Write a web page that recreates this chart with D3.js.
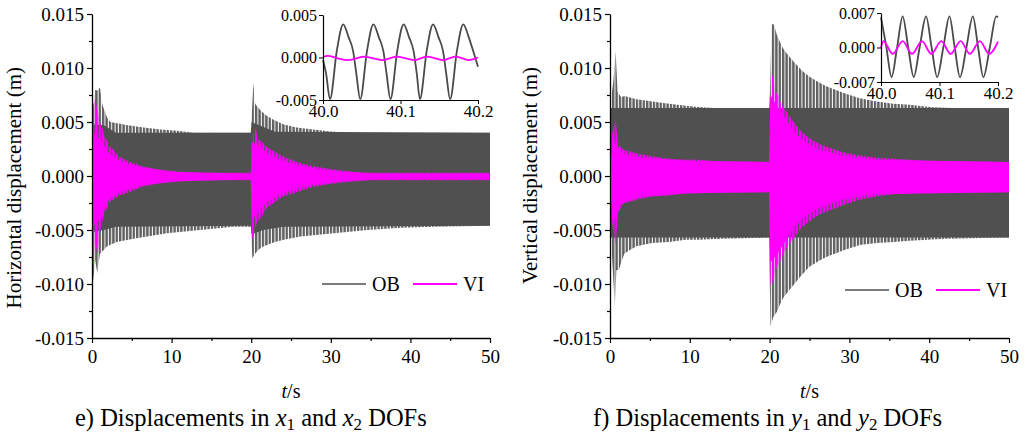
<!DOCTYPE html>
<html>
<head>
<meta charset="utf-8">
<script src="https://cdn.jsdelivr.net/npm/d3@7"></script>
<style>
  html, body { margin: 0; padding: 0; background: #fff; }
  svg { display: block; }
  text { font-family: "Liberation Serif", "Times New Roman", serif; fill: #000; }
</style>
</head>
<body>
<svg id="chart" width="1028" height="436"></svg>
<script>
// ---------- data (displacement in m, time in s) ----------
// Envelope of the response: tip = peaks of individual cycles, core = band reached by every cycle.

// e) horizontal, OB
const hObTipTop = [[0,0.0040],[0.15,0.0062],[0.4,0.0080],[0.7,0.0079],[1.0,0.0082],[1.3,0.0066],[1.6,0.0060],[1.9,0.0054],[2.3,0.0050],[3.0,0.0049],[4.5,0.0047],[6.5,0.0045],[8.6,0.0043],[10.7,0.0042],[12.8,0.0040],[19.95,0.0040],[20.1,0.0060],[20.27,0.0086],[20.5,0.0067],[20.8,0.0064],[21.3,0.0060],[21.9,0.0056],[22.8,0.0052],[24.0,0.0048],[25.7,0.0045],[27.8,0.0043],[30.3,0.0041],[32.8,0.0040],[50,0.0040]];
const hObTipBot = [[0,-0.0046],[0.1,-0.0100],[0.4,-0.0078],[0.67,-0.0090],[1.0,-0.0072],[1.3,-0.0070],[1.9,-0.0065],[3.1,-0.0061],[5.2,-0.0058],[9.4,-0.0053],[13.6,-0.0050],[17.7,-0.0047],[19.95,-0.0047],[20.15,-0.0076],[20.7,-0.0070],[21.3,-0.0066],[22.0,-0.0064],[23.0,-0.0061],[24.1,-0.0059],[26.2,-0.0056],[30.4,-0.0053],[34.6,-0.0050],[38.8,-0.0048],[43,-0.0047],[50,-0.0046]];
const hObCoreTop = [[0,0.0048],[1.5,0.0047],[3,0.0040],[19.95,0.0040],[20.05,0.0050],[21,0.0047],[23,0.0041],[50,0.0040]];
const hObCoreBot = [[0,-0.0052],[1.5,-0.0050],[3,-0.0047],[19.95,-0.0046],[20.05,-0.0054],[21.5,-0.0050],[24,-0.0047],[50,-0.0046]];

// e) horizontal, VI
const hViTipTop = [[0,0.0002],[0.15,0.0065],[0.4,0.0072],[0.7,0.0060],[1.0,0.0050],[1.3,0.0044],[1.6,0.0036],[1.9,0.0033],[2.2,0.0027],[2.6,0.0025],[3.4,0.0018],[4.7,0.0013],[6.3,0.0009],[8.4,0.0006],[10.9,0.0004],[13,0.0003],[19.95,0.0003],[20.05,0.0012],[20.27,0.0040],[20.6,0.0044],[20.8,0.0034],[21.3,0.0032],[21.9,0.0027],[22.8,0.0023],[24,0.0018],[25.7,0.0013],[27.8,0.0009],[30.3,0.0006],[32.8,0.0004],[35,0.0003],[50,0.0003]];
const hViTipBot = [[0,-0.0003],[0.15,-0.0082],[0.4,-0.0060],[0.7,-0.0073],[1.0,-0.0052],[1.3,-0.0042],[1.6,-0.0033],[1.9,-0.0030],[2.2,-0.0024],[3.4,-0.0018],[4.7,-0.0015],[6.3,-0.0010],[8.4,-0.0007],[10.9,-0.0005],[13,-0.0004],[19.95,-0.0004],[20.1,-0.0059],[20.5,-0.0048],[20.8,-0.0042],[21.3,-0.0038],[21.9,-0.0030],[22.8,-0.0025],[24,-0.0019],[25.7,-0.0015],[27.8,-0.0010],[30.3,-0.0007],[32.8,-0.0005],[35,-0.0004],[50,-0.0004]];
const hViCoreTop = [[0,0.0042],[1,0.0034],[2,0.0022],[3.5,0.0014],[6,0.0008],[10,0.0004],[19.95,0.0002],[20.05,0.0032],[21,0.0028],[22,0.0021],[24,0.0014],[27,0.0008],[31,0.0004],[36,0.0002],[50,0.0002]];
const hViCoreBot = [[0,-0.0048],[1,-0.0040],[2,-0.0023],[3.5,-0.0015],[6,-0.0009],[10,-0.0005],[19.95,-0.0003],[20.05,-0.0042],[21,-0.0032],[22,-0.0024],[24,-0.0016],[27,-0.0009],[31,-0.0005],[36,-0.0003],[50,-0.0003]];

// f) vertical, OB
const vObTipTop = [[0,0.0063],[0.2,0.0075],[0.45,0.0090],[0.7,0.0116],[0.95,0.0078],[1.4,0.0073],[1.8,0.0074],[2.4,0.0073],[3.3,0.0071],[5.3,0.0069],[7.4,0.0067],[9.5,0.0065],[11.1,0.0064],[13,0.0063],[19.95,0.0063],[20.05,0.0080],[20.26,0.0141],[20.55,0.0140],[20.9,0.0131],[21.3,0.0124],[21.7,0.0118],[22.1,0.0114],[23,0.0106],[24,0.0098],[25,0.0092],[26.1,0.0087],[27.1,0.0083],[29.2,0.0077],[31.3,0.0072],[33.4,0.0069],[35.5,0.0067],[37.6,0.0066],[40,0.0064],[43,0.0063],[50,0.0063]];
const vObTipBot = [[0,-0.0057],[0.2,-0.0067],[0.6,-0.0121],[0.8,-0.0087],[1.1,-0.0087],[1.5,-0.0078],[1.8,-0.0072],[2.4,-0.0069],[3.3,-0.0065],[5.3,-0.0062],[7.4,-0.0061],[9.5,-0.0059],[11.1,-0.0059],[14,-0.0058],[19.95,-0.0057],[20.1,-0.0139],[20.5,-0.0130],[20.9,-0.0126],[21.3,-0.0119],[21.7,-0.0113],[22.1,-0.0109],[23,-0.0101],[24,-0.0092],[25,-0.0084],[26.1,-0.0079],[27.1,-0.0075],[29.2,-0.0069],[31.3,-0.0064],[33.4,-0.0062],[35.5,-0.0061],[37.6,-0.0060],[42,-0.0058],[50,-0.0057]];
const vObCoreTop = [[0,0.0063],[50,0.0063]];
const vObCoreBot = [[0,-0.0057],[50,-0.0057]];

// f) vertical, VI
const vViTipTop = [[0,0.0013],[0.3,0.0040],[0.7,0.0052],[1.0,0.0030],[1.4,0.0026],[1.8,0.0024],[2.4,0.0023],[3.3,0.0021],[5.3,0.0018],[7.4,0.0016],[9.5,0.0015],[11.1,0.0015],[13,0.0014],[19.95,0.0013],[20.26,0.0097],[20.5,0.0087],[20.7,0.0078],[21.1,0.0075],[21.5,0.0066],[22.1,0.0060],[23,0.0050],[24,0.0041],[25,0.0035],[26.1,0.0030],[27.1,0.0027],[29.2,0.0022],[31.3,0.0019],[33.4,0.0017],[35.5,0.0016],[37.6,0.0015],[40,0.0014],[50,0.0013]];
const vViTipBot = [[0,-0.0015],[0.3,-0.0044],[0.7,-0.0064],[1.0,-0.0035],[1.4,-0.0028],[1.8,-0.0025],[2.4,-0.0024],[3.3,-0.0022],[5.3,-0.0019],[7.4,-0.0018],[9.5,-0.0016],[11.1,-0.0016],[14,-0.0015],[19.95,-0.0015],[20.1,-0.0102],[20.5,-0.0095],[20.9,-0.0085],[21.3,-0.0079],[21.7,-0.0073],[22.1,-0.0067],[23,-0.0058],[24,-0.0048],[25,-0.0042],[26.1,-0.0036],[27.1,-0.0033],[29.2,-0.0027],[31.3,-0.0022],[33.4,-0.0019],[35.5,-0.0017],[37.6,-0.0016],[42,-0.0015],[50,-0.0015]];
const vViCoreTop = [[0,0.0013],[0.5,0.0032],[1.5,0.0021],[4,0.0017],[10,0.0014],[19.95,0.0013],[20.1,0.0075],[21,0.0064],[22,0.0053],[23,0.0042],[24,0.0034],[26,0.0025],[29,0.0019],[33,0.0015],[50,0.0013]];
const vViCoreBot = [[0,-0.0015],[0.5,-0.0042],[1.5,-0.0025],[4,-0.0019],[10,-0.0016],[19.95,-0.0015],[20.1,-0.0080],[21,-0.0072],[22,-0.0060],[23,-0.0048],[24,-0.0040],[26,-0.0030],[29,-0.0022],[33,-0.0017],[50,-0.0015]];

// zoomed windows 40.0 - 40.2 s
const hInsetOB = [[40.000,-0.0003],[40.004,-0.0019],[40.009,-0.0049],[40.018,0.0009],[40.026,0.0039],[40.033,0.0024],[40.039,0.0007],[40.043,-0.0019],[40.048,-0.0049],[40.057,0.0009],[40.065,0.0039],[40.072,0.0024],[40.078,0.0007],[40.082,-0.0019],[40.087,-0.0049],[40.096,0.0009],[40.104,0.0039],[40.111,0.0024],[40.117,0.0007],[40.121,-0.0019],[40.125,-0.0049],[40.134,0.0009],[40.142,0.0039],[40.149,0.0024],[40.155,0.0007],[40.159,-0.0019],[40.164,-0.0049],[40.173,0.0009],[40.181,0.0039],[40.188,0.0024],[40.194,0.0007],[40.200,-0.0011]];
const hInsetVI = [[40.000,0.0001],[40.006,0.0002],[40.019,-0.0001],[40.032,-0.0003],[40.043,-0.0001],[40.053,0.0001],[40.065,-0.0001],[40.077,-0.0003],[40.086,-0.0001],[40.095,0.0001],[40.107,-0.0001],[40.118,-0.0003],[40.126,-0.0001],[40.134,0.0001],[40.145,-0.0001],[40.155,-0.0003],[40.163,-0.0001],[40.171,0.0001],[40.180,-0.0001],[40.188,-0.0003],[40.200,0.0000]];
const vInsetOB = [[40.000,0.0061],[40.009,0.0002],[40.018,-0.0060],[40.0275,0.0000],[40.037,0.0063],[40.0465,0.0000],[40.056,-0.0060],[40.066,0.0000],[40.077,0.0063],[40.0865,0.0000],[40.096,-0.0060],[40.1065,0.0000],[40.117,0.0063],[40.126,0.0000],[40.135,-0.0060],[40.146,0.0000],[40.157,0.0063],[40.166,0.0000],[40.175,-0.0060],[40.186,0.0000],[40.197,0.0063],[40.200,0.0061]];
const vInsetVI = [[40.000,0.0000],[40.004,0.0013],[40.020,-0.0013],[40.037,0.0013],[40.053,-0.0013],[40.070,0.0013],[40.086,-0.0013],[40.103,0.0013],[40.119,-0.0013],[40.136,0.0013],[40.152,-0.0013],[40.169,0.0013],[40.185,-0.0013],[40.200,0.0012]];

// axes
const mainYTicks = [-0.015, -0.010, -0.005, 0.000, 0.005, 0.010, 0.015];
const mainYMinor = [-0.0125, -0.0075, -0.0025, 0.0025, 0.0075, 0.0125];
const mainXTicks = [0, 10, 20, 30, 40, 50];
const mainXMinor = [5, 15, 25, 35, 45];
const insetXTicks = [40.0, 40.1, 40.2];
const hInsetYTicks = [-0.005, 0.000, 0.005];
const vInsetYTicks = [-0.007, 0.000, 0.007];
const seriesNames = ["OB", "VI"];

// ---------- drawing ----------
const OB_COLOR = "#505050";
const OB_TEETH = "#606060";
const VI_COLOR = "#ff00ff";
const svg = d3.select("#chart");
const defs = svg.append("defs");

// thin vertical strokes standing for the individual cycle peaks
function stripes(id, color, width) {
  const p = defs.append("pattern").attr("id", id)
    .attr("patternUnits", "userSpaceOnUse").attr("width", 3.4).attr("height", 10);
  p.append("rect").attr("x", 0).attr("y", 0).attr("width", width).attr("height", 10).attr("fill", color);
}
stripes("obTeeth", OB_TEETH, 2.4);
stripes("viTeeth", VI_COLOR, 2.4);

const fmt = v => { const s = Math.abs(v).toFixed(3); return (v < -1e-9 ? "-" : "") + s; };

function drawPanel(p) {
  const x = d3.scaleLinear().domain([0, 50]).range([p.left, p.right]);
  const y = d3.scaleLinear().domain([-0.015, 0.015]).range([338, 14]);
  const g = svg.append("g");
  const band = d3.area().x(d => x(d[0])).y0(y(0)).y1(d => y(d[1]));

  g.append("path").datum(p.obTipTop).attr("d", band).attr("fill", "url(#obTeeth)");
  g.append("path").datum(p.obTipBot).attr("d", band).attr("fill", "url(#obTeeth)");
  g.append("path").datum(p.obCoreTop).attr("d", band).attr("fill", OB_COLOR);
  g.append("path").datum(p.obCoreBot).attr("d", band).attr("fill", OB_COLOR);
  g.append("path").datum(p.viTipTop).attr("d", band).attr("fill", "url(#viTeeth)");
  g.append("path").datum(p.viTipBot).attr("d", band).attr("fill", "url(#viTeeth)");
  g.append("path").datum(p.viCoreTop).attr("d", band).attr("fill", VI_COLOR);
  g.append("path").datum(p.viCoreBot).attr("d", band).attr("fill", VI_COLOR);

  // axes
  const ya = g.append("g").attr("transform", `translate(${p.left},0)`)
    .call(d3.axisLeft(y).tickValues(mainYTicks).tickSize(5).tickSizeOuter(0).tickPadding(3).tickFormat(fmt));
  g.append("g").attr("transform", `translate(${p.left},0)`)
    .call(d3.axisLeft(y).tickValues(mainYMinor).tickSize(3).tickSizeOuter(0).tickFormat(""))
    .select(".domain").remove();
  const xa = g.append("g").attr("transform", `translate(0,338)`)
    .call(d3.axisBottom(x).tickValues(mainXTicks).tickSize(5).tickSizeOuter(0).tickPadding(7).tickFormat(d3.format("d")));
  g.append("g").attr("transform", `translate(0,338)`)
    .call(d3.axisBottom(x).tickValues(mainXMinor).tickSize(3).tickSizeOuter(0).tickFormat(""))
    .select(".domain").remove();
  g.selectAll(".domain").attr("stroke", "#000").attr("stroke-width", 1.3);
  g.selectAll(".tick line").attr("stroke", "#000").attr("stroke-width", 1.2);
  ya.selectAll("text").attr("font-size", 19).attr("font-family", "Liberation Serif");
  xa.selectAll("text").attr("font-size", 19).attr("font-family", "Liberation Serif");

  // axis titles
  g.append("text").attr("transform", `translate(${p.titleX},67) rotate(-90)`)
    .attr("text-anchor", "end").attr("font-size", 21).text(p.yTitle);
  const xt = g.append("text").attr("x", (p.left + p.right) / 2).attr("y", 398)
    .attr("text-anchor", "middle").attr("font-size", 20);
  xt.append("tspan").attr("font-style", "italic").text("t");
  xt.append("tspan").text("/s");

  // legend
  const lg = g.append("g").attr("transform", `translate(${p.legX},${p.legY})`);
  lg.append("line").attr("x1", 0).attr("x2", 44).attr("y1", 0).attr("y2", 0)
    .attr("stroke", OB_COLOR).attr("stroke-width", 1.6);
  lg.append("text").attr("x", 50).attr("y", 7).attr("font-size", 20).text(seriesNames[0]);
  lg.append("line").attr("x1", 91).attr("x2", 135).attr("y1", 0).attr("y2", 0)
    .attr("stroke", VI_COLOR).attr("stroke-width", 2);
  lg.append("text").attr("x", 141).attr("y", 7).attr("font-size", 20).text(seriesNames[1]);

  // caption
  const cap = g.append("text").attr("x", p.capX).attr("y", 426).attr("font-size", 24.5);
  cap.append("tspan").text(p.capLabel + " Displacements in ");
  cap.append("tspan").attr("font-style", "italic").text(p.sym);
  cap.append("tspan").attr("font-size", 17).attr("dy", 4).text("1");
  cap.append("tspan").attr("dy", -4).text(" and ");
  cap.append("tspan").attr("font-style", "italic").text(p.sym);
  cap.append("tspan").attr("font-size", 17).attr("dy", 4).text("2");
  cap.append("tspan").attr("dy", -4).text(" DOFs");

  // zoomed window
  const ix = d3.scaleLinear().domain([40.0, 40.2]).range([p.inL, p.inR]);
  const iy = d3.scaleLinear().domain([-p.inMax, p.inMax]).range([p.inB, p.inT]);
  const line = d3.line().x(d => ix(d[0])).y(d => iy(d[1])).curve(d3.curveMonotoneX);
  const ig = g.append("g");
  ig.append("path").datum(p.inOB).attr("d", line).attr("fill", "none")
    .attr("stroke", "#4a4a4a").attr("stroke-width", 1.8);
  ig.append("path").datum(p.inVI).attr("d", line).attr("fill", "none")
    .attr("stroke", VI_COLOR).attr("stroke-width", 1.8);
  const iya = ig.append("g").attr("transform", `translate(${p.inL},0)`)
    .call(d3.axisLeft(iy).tickValues(p.inYTicks).tickSize(4).tickSizeOuter(0).tickPadding(2).tickFormat(fmt));
  const ixa = ig.append("g").attr("transform", `translate(0,${p.inB})`)
    .call(d3.axisBottom(ix).tickValues(insetXTicks).tickSize(4).tickSizeOuter(0).tickPadding(1).tickFormat(d3.format(".1f")));
  ig.selectAll(".domain").attr("stroke", "#000").attr("stroke-width", 1.2);
  ig.selectAll(".tick line").attr("stroke", "#000");
  iya.selectAll("text").attr("font-size", 16).attr("font-family", "Liberation Serif");
  ixa.selectAll("text").attr("font-size", 17).attr("font-family", "Liberation Serif");
}

drawPanel({
  left: 92, right: 490, titleX: 21, yTitle: "Horizontal displacement (m)",
  obTipTop: hObTipTop, obTipBot: hObTipBot, obCoreTop: hObCoreTop, obCoreBot: hObCoreBot,
  viTipTop: hViTipTop, viTipBot: hViTipBot, viCoreTop: hViCoreTop, viCoreBot: hViCoreBot,
  legX: 322, legY: 284, capX: 75, capLabel: "e)", sym: "x",
  inL: 323, inR: 478, inT: 15, inB: 100, inMax: 0.005, inYTicks: hInsetYTicks,
  inOB: hInsetOB, inVI: hInsetVI
});
drawPanel({
  left: 610, right: 1009, titleX: 537, yTitle: "Vertical displacement (m)",
  obTipTop: vObTipTop, obTipBot: vObTipBot, obCoreTop: vObCoreTop, obCoreBot: vObCoreBot,
  viTipTop: vViTipTop, viTipBot: vViTipBot, viCoreTop: vViCoreTop, viCoreBot: vViCoreBot,
  legX: 845, legY: 290, capX: 593, capLabel: "f)", sym: "y",
  inL: 881, inR: 998, inT: 13, inB: 82, inMax: 0.007, inYTicks: vInsetYTicks,
  inOB: vInsetOB, inVI: vInsetVI
});
</script>
</body>
</html>
